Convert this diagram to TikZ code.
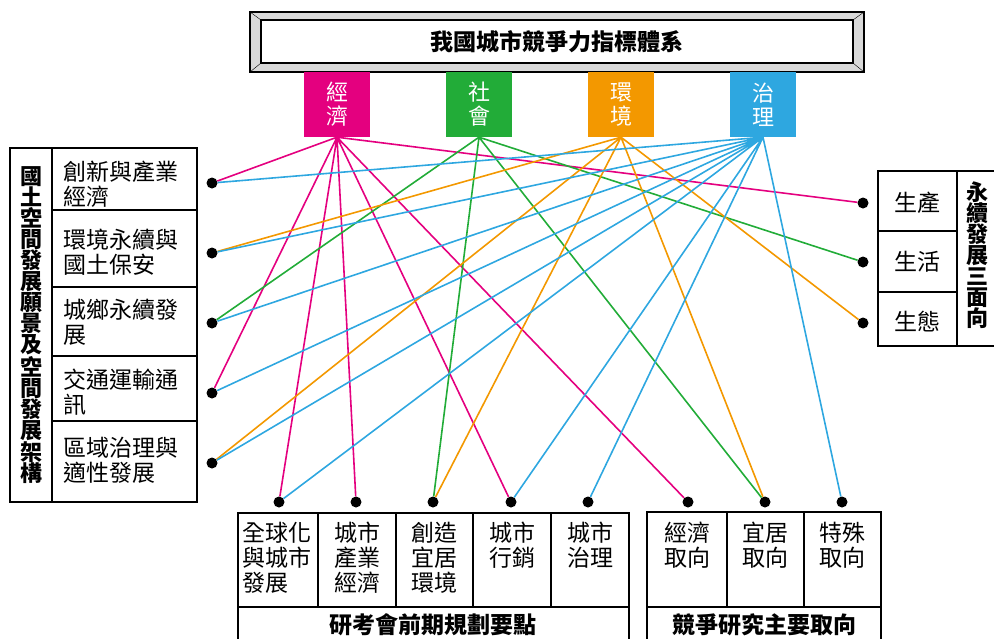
\documentclass[tikz,border=0pt]{standalone}
\usepackage{fontspec}
\setmainfont{Noto Sans CJK TC}
\usepackage{xcolor}
\definecolor{econmag}{HTML}{E4007F}
\definecolor{socgreen}{HTML}{22AC38}
\definecolor{envorange}{HTML}{F39800}
\definecolor{govblue}{HTML}{2EA7E0}
\definecolor{bevelgray}{HTML}{D9D9D9}

\begin{document}
\begin{tikzpicture}[x=1pt,y=-1pt,
  txt/.style={font=\fontsize{23}{25}\selectfont, inner sep=0pt, align=left},
  btxt/.style={font=\fontsize{23}{25}\selectfont\bfseries, inner sep=0pt, align=center},
  vtxt/.style={font=\fontsize{22}{21}\selectfont\bfseries, inner sep=0pt, align=center},
  tag/.style={minimum width=66pt, minimum height=65pt, inner sep=0pt, text=white, align=center, font=\fontsize{22}{24}\selectfont},
  blob/.style={circle, fill=black, minimum size=11pt, inner sep=0pt},
  wire/.style={line width=1.6pt},
  frame/.style={line width=1.4pt}]
\useasboundingbox (0,0) rectangle (994,638);
\clip (0,0) rectangle (994,638);
% Drawing title
\filldraw[fill=bevelgray, line width=1.6pt] (250,12) rectangle (864,72);
\filldraw[fill=white, line width=1.3pt] (261,20) rectangle (853,63);
\draw (250,12) -- (261,20);
\draw (864,12) -- (853,20);
\draw (250,72) -- (261,63);
\draw (864,72) -- (853,63);
\node[btxt] (title) at (557,42) {我國城市競爭力指標體系};
% Four aspects
\node[tag, fill=econmag] (econ) at (337,104.5) {經\\濟};
\node[tag, fill=socgreen] (soc) at (479,104.5) {社\\會};
\node[tag, fill=envorange] (env) at (621,104.5) {環\\境};
\node[tag, fill=govblue] (gov) at (763,104.5) {治\\理};
% Done with title; drawing left table
\draw[frame] (10,148) rectangle (197,502);
\draw[frame] (52,148) -- (52,502);
\draw[frame] (52,210) -- (197,210);
\draw[frame] (52,287) -- (197,287);
\draw[frame] (52,356) -- (197,356);
\draw[frame] (52,421) -- (197,421);
\node[vtxt] (vision) at (31,325) {國\\土\\空\\間\\發\\展\\願\\景\\及\\空\\間\\發\\展\\架\\構};
\node[txt, anchor=west] (innov) at (63,184) {創新與產業\\經濟};
\node[txt, anchor=west] (envsec) at (63,252) {環境永續與\\國土保安};
\node[txt, anchor=west] (urban) at (63,322) {城鄉永續發\\展};
\node[txt, anchor=west] (trans) at (63,392) {交通運輸通\\訊};
\node[txt, anchor=west] (region) at (63,460) {區域治理與\\適性發展};
\node[blob] (innovdot) at (212,183) {};
\node[blob] (envsecdot) at (212,253) {};
\node[blob] (urbandot) at (212,323) {};
\node[blob] (transdot) at (212,393) {};
\node[blob] (regiondot) at (212,463) {};
% Right table
\draw[frame] (878,171) rectangle (1000,346);
\draw[frame] (957,171) -- (957,346);
\draw[frame] (878,231) -- (957,231);
\draw[frame] (878,292) -- (957,292);
\node[txt] (prod) at (917,203) {生產};
\node[txt] (life) at (917,262) {生活};
\node[txt] (eco) at (917,322) {生態};
\node[vtxt] (threeasp) at (977,255) {永\\續\\發\\展\\三\\面\\向};
\node[blob] (proddot) at (863,203) {};
\node[blob] (lifedot) at (863,262) {};
\node[blob] (ecodot) at (863,323) {};
% Bottom tables
\draw[frame] (238,513) rectangle (629,650);
\draw[frame] (238,607) -- (629,607);
\draw[frame] (318,513) -- (318,607);
\draw[frame] (396,513) -- (396,607);
\draw[frame] (473,513) -- (473,607);
\draw[frame] (551,513) -- (551,607);
\node[txt, anchor=north] (glob) at (277,522) {全球化\\與城市\\發展};
\node[txt, anchor=north] (indus) at (357,522) {城市\\產業\\經濟};
\node[txt, anchor=north] (live) at (434,522) {創造\\宜居\\環境};
\node[txt, anchor=north] (mkt) at (512,522) {城市\\行銷};
\node[txt, anchor=north] (govern) at (590,522) {城市\\治理};
\node[btxt] (rdec) at (433,625) {研考會前期規劃要點};
\node[blob] (globdot) at (279,502) {};
\node[blob] (indusdot) at (356,502) {};
\node[blob] (livedot) at (433,502) {};
\node[blob] (mktdot) at (511,502) {};
\node[blob] (governdot) at (588,502) {};
\draw[frame] (647,512) rectangle (881,650);
\draw[frame] (647,607) -- (881,607);
\draw[frame] (727,512) -- (727,607);
\draw[frame] (804,512) -- (804,607);
\node[txt, anchor=north] (ecoori) at (687,522) {經濟\\取向};
\node[txt, anchor=north] (liveori) at (765,522) {宜居\\取向};
\node[txt, anchor=north] (specori) at (842,522) {特殊\\取向};
\node[btxt] (compet) at (764,625) {競爭研究主要取向};
\node[blob] (ecooridot) at (688,502) {};
\node[blob] (liveoridot) at (765,502) {};
\node[blob] (specoridot) at (842,502) {};
% Done with tables; drawing links
\draw[wire, color=econmag] (econ.south) -- (innovdot) (econ.south) -- (transdot)
  (econ.south) -- (proddot) (econ.south) -- (globdot) (econ.south) -- (indusdot)
  (econ.south) -- (mktdot) (econ.south) -- (ecooridot);
\draw[wire, color=socgreen] (soc.south) -- (urbandot) (soc.south) -- (lifedot)
  (soc.south) -- (livedot) (soc.south) -- (liveoridot);
\draw[wire, color=envorange] (env.south) -- (envsecdot) (env.south) -- (regiondot)
  (env.south) -- (ecodot) (env.south) -- (livedot) (env.south) -- (liveoridot);
\draw[wire, color=govblue] (gov.south) -- (innovdot) (gov.south) -- (envsecdot)
  (gov.south) -- (urbandot) (gov.south) -- (transdot) (gov.south) -- (regiondot)
  (gov.south) -- (globdot) (gov.south) -- (mktdot) (gov.south) -- (governdot)
  (gov.south) -- (specoridot);
% Done with links
\end{tikzpicture}
\end{document}
